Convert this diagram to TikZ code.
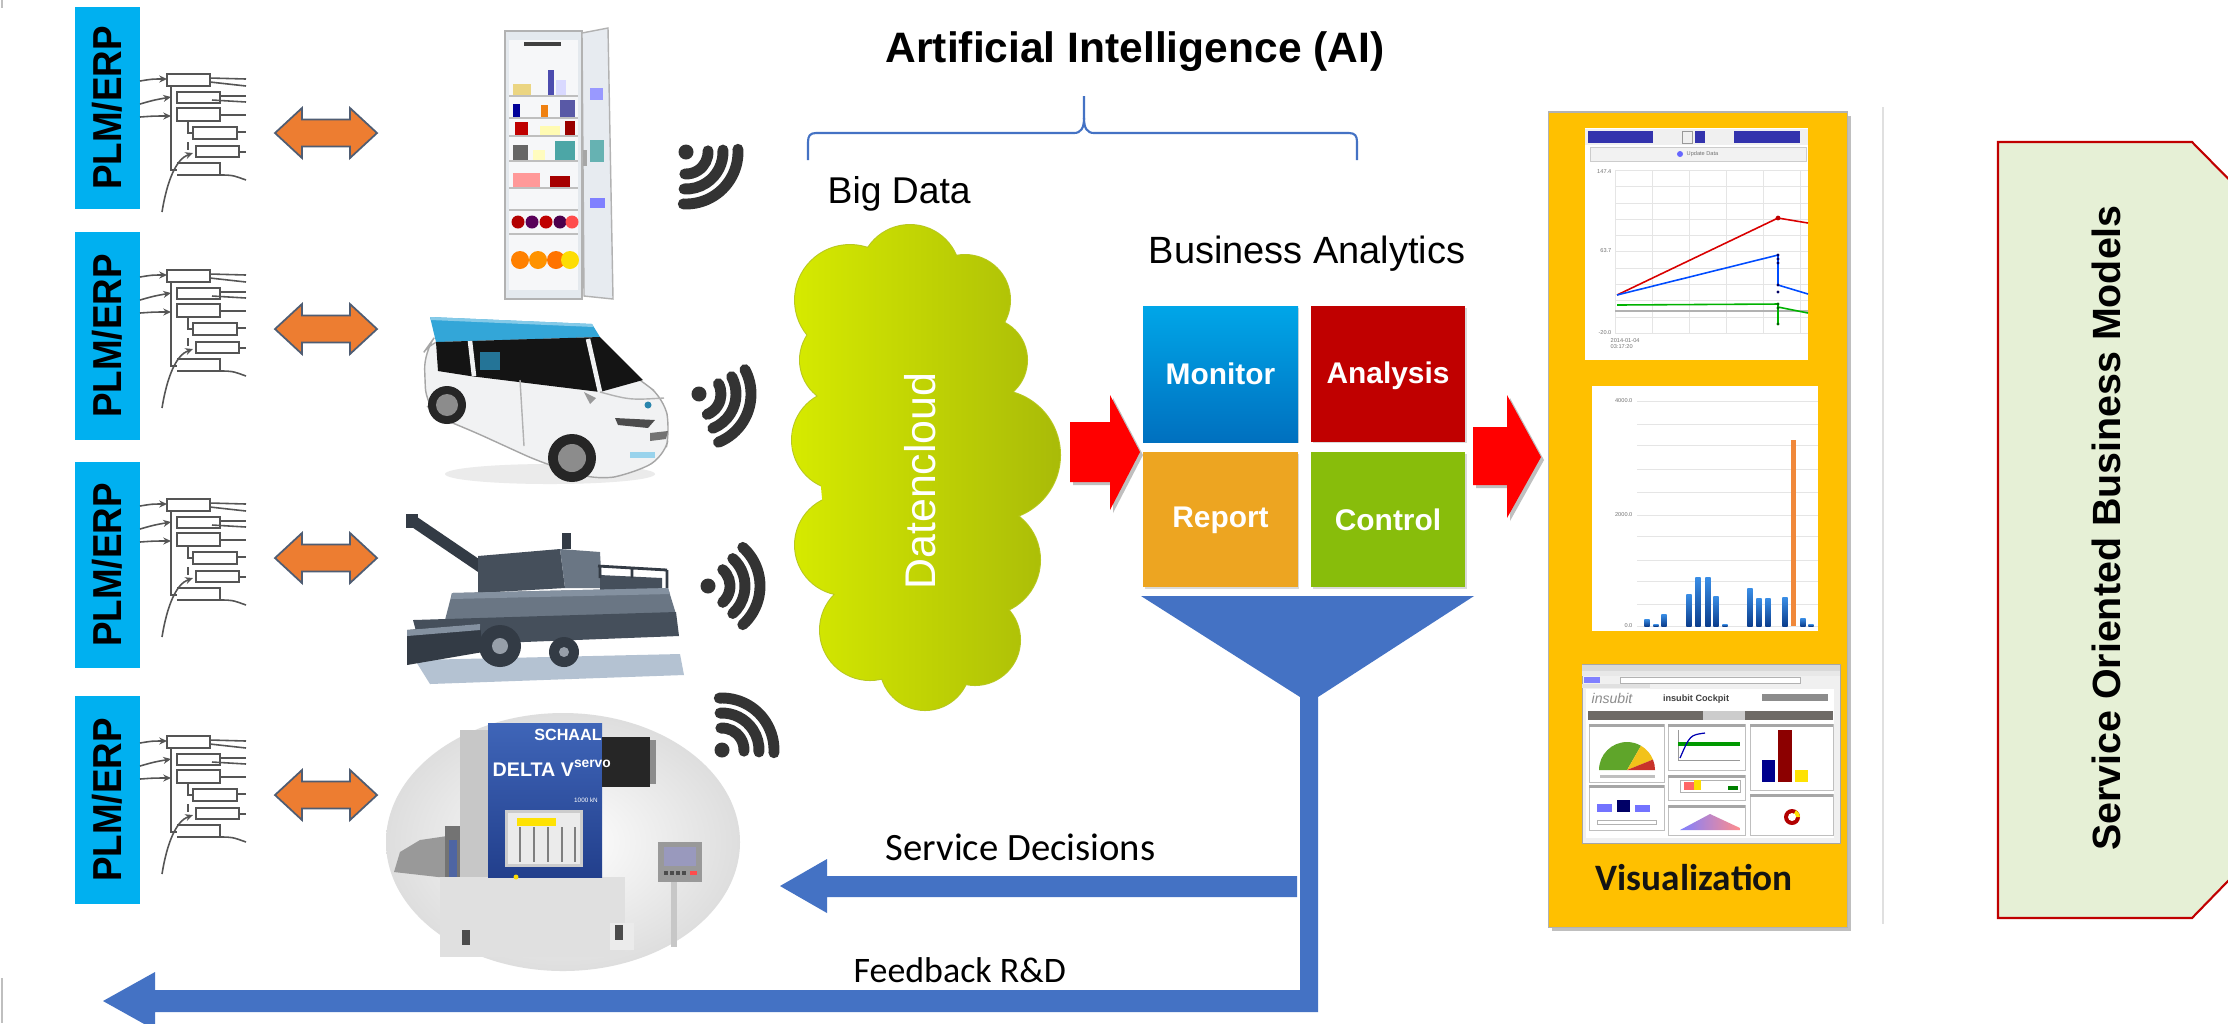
\documentclass[tikz,border=0pt]{standalone}
\usepackage{fontspec}
\usepackage{graphicx}
\setmainfont{Liberation Sans}
\newfontfamily\calfont{Carlito}
\usetikzlibrary{calc,arrows.meta}
\newcommand{\setfs}[1]{\fontsize{#1}{#1}\selectfont}

\definecolor{plmblue}{HTML}{00B0F0}
\definecolor{dblfill}{HTML}{ED7D31}
\definecolor{dblborder}{HTML}{4F5D73}
\definecolor{bomgray}{HTML}{555555}
\definecolor{flowblue}{HTML}{4472C4}
\definecolor{panelyellow}{HTML}{FFC000}
\definecolor{sobgreen}{HTML}{E6F0D6}
\definecolor{sobred}{HTML}{C00000}
\definecolor{monA}{HTML}{00A6E8}
\definecolor{monB}{HTML}{0070BF}
\definecolor{anared}{HTML}{C00000}
\definecolor{reporange}{HTML}{EDA521}
\definecolor{ctrlgreen}{HTML}{88BD0B}
\definecolor{cloudL}{HTML}{D6EA00}
\definecolor{cloudR}{HTML}{A9BB08}
\definecolor{cloudedge}{HTML}{B8C820}
\definecolor{wifigray}{HTML}{333333}
\definecolor{arrowred}{HTML}{FF0000}
\definecolor{fridgebody}{HTML}{E4E9EE}
\definecolor{fridgein}{HTML}{F6F7F9}
\definecolor{carroof}{HTML}{33A6D8}
\definecolor{carbody}{HTML}{F1F2F3}
\definecolor{harvA}{HTML}{454F5B}
\definecolor{harvB}{HTML}{6A7684}
\definecolor{harvC}{HTML}{333B45}
\definecolor{harvD}{HTML}{8491A0}
\definecolor{harvshadow}{HTML}{B4C2D2}
\definecolor{schaalA}{HTML}{3F65B8}
\definecolor{schaalB}{HTML}{223F8C}
\definecolor{navgray}{HTML}{6E6A66}
\definecolor{gaugegreen}{HTML}{5FA52A}
\definecolor{gaugeyellow}{HTML}{F2C21A}
\definecolor{gaugered}{HTML}{C8322A}
\definecolor{barA}{HTML}{3A8EE6}
\definecolor{barB}{HTML}{0B3D8C}
\definecolor{barorange}{HTML}{F0883A}

\tikzset{
  plmtext/.style={rotate=90, font=\setfs{11.5}\bfseries, text=black, inner sep=0pt},
  dblarrow/.style={fill=dblfill, draw=dblborder, line width=0.5pt},
  tile/.style={inner sep=0pt, font=\setfs{8.5}\bfseries, text=white},
  tinylabel/.style={inner sep=0pt, font=\setfs{1.6}, text=black!55},
  wifi/.pic={
    \fill[wifigray] (0,0) circle[radius=7.5];
    \foreach \r in {22,37,52}
      \draw[wifigray, line width=3.1pt, line cap=round]
        (-48:\r) arc[start angle=-48, end angle=48, radius=\r];
  },
  bom/.pic={
    \begin{scope}[draw=bomgray, line width=0.45pt]
      \draw (27,-59) rectangle (70,-47);
      \draw (37,-41) rectangle (80,-30);
      \draw (37,-25) rectangle (80,-12);
      \draw (53,-6) rectangle (97,6);
      \draw (56,13) rectangle (99,24);
      \draw (37,30) -- (80,30) -- (80,42) -- (37,42);
      \draw (31,-47) -- (31,37) -- (37,37);
      \draw (48,-11) -- (48,0) -- (53,0);
      \draw (48,9) -- (48,17);
      \draw[-{Stealth[length=2.2pt,width=2pt]}] (0,-52) .. controls (12,-54) .. (27,-54);
      \draw[-{Stealth[length=2.2pt,width=2pt]}] (0,-29) .. controls (14,-33) .. (31,-36);
      \draw[-{Stealth[length=2.2pt,width=2pt]}] (0,-16) .. controls (14,-17) .. (31,-17);
      \draw[-{Stealth[length=2.2pt,width=2pt]}] (22,79) .. controls (27,48) and (36,26) .. (53,20);
      \draw (70,-55) -- (106,-54);
      \draw (70,-51) -- (106,-47);
      \draw (80,-37) -- (106,-37);
      \draw (72,-33) -- (106,-31);
      \draw (80,-18) -- (106,-18);
      \draw (97,-1) -- (106,-1);
      \draw (99,19) -- (106,19);
      \draw (80,42) .. controls (92,42) .. (106,47);
    \end{scope}
  }
}

\begin{document}
\begin{tikzpicture}[x=0.01cm, y=-0.01cm]
\useasboundingbox (0,0) rectangle (2228,1023);
\fill[white] (0,0) rectangle (2228,1023);
\draw[black!25, line width=0.5pt] (2,0) -- (2,8) (2,978) -- (2,1023);

% ---------- PLM/ERP columns ----------
\foreach \i/\ya/\yb in {1/7/209, 2/232/440, 3/462/668, 4/696/904} {
  \fill[plmblue] (75,\ya) rectangle (140,\yb);
  \node[plmtext] (plm\i) at (107.5,{(\ya+\yb)/2}) {\scalebox{0.91}[1]{PLM/ERP}};
}

% product structure sketches and exchange arrows
\foreach \y in {133,329,558,795} {
  \pic at (140,\y) {bom};
  \fill[dblarrow] (275,\y) -- ++(27,-25) -- ++(0,11.5) -- ++(48,0) -- ++(0,-11.5)
     -- ++(27,25) -- ++(-27,25) -- ++(0,-11.5) -- ++(-48,0) -- ++(0,11.5) -- cycle;
}

% ---------- fridge ----------
\filldraw[fill=fridgebody, draw=black!30, line width=0.4pt] (505,31) rectangle (582,299);
\fill[fridgein] (509,40) rectangle (578,290);
\fill[black!75] (524,42) rectangle (561,46);
\foreach \sy in {96,118,136,161,188,210,234} \draw[black!25, line width=0.5pt] (509,\sy) -- (578,\sy);
\fill[yellow!45!brown!60] (513,84) rectangle (531,95);
\fill[blue!55!black!70] (548,70) rectangle (554,95);
\fill[white!85!blue] (556,80) rectangle (566,95);
\fill[blue!60!black] (513,104) rectangle (520,117);
\fill[orange!75!brown] (541,105) rectangle (548,117);
\fill[blue!30!gray] (560,100) rectangle (575,117);
\fill[red!75!black] (515,122) rectangle (528,135);
\fill[yellow!30!white] (540,126) rectangle (560,135);
\fill[red!60!black] (565,121) rectangle (575,135);
\fill[black!60] (513,145) rectangle (528,160);
\fill[yellow!25!white] (533,150) rectangle (545,160);
\fill[teal!70] (555,141) rectangle (575,160);
\fill[red!40!white] (513,173) rectangle (540,187);
\fill[red!65!black] (550,176) rectangle (570,187);
\foreach \fx/\fc in {518/red!70!black, 532/violet!70!black, 546/red!75!black, 560/violet!60!black, 572/red!70}
  \fill[\fc] (\fx,222) circle[radius=6.5];
\foreach \fx/\fc in {520/orange, 538/orange!85!yellow, 556/orange!90!red, 570/yellow!80!orange}
  \fill[\fc] (\fx,260) circle[radius=9];
\filldraw[fill=fridgebody!90!white, draw=black!30, line width=0.4pt] (582,33) -- (608,28) -- (613,299) -- (584,296) -- cycle;
\fill[blue!40] (590,88) rectangle (603,100);
\fill[teal!60] (590,140) rectangle (604,162);
\fill[blue!50] (590,198) rectangle (605,208);
\fill[black!35] (583,150) rectangle (587,166);

% ---------- car ----------
\fill[black!8] (550,474) ellipse[x radius=105, y radius=10];
\filldraw[fill=carbody, draw=black!35, line width=0.4pt, rounded corners=5]
  (424,352) -- (434,338) -- (585,340) -- (640,380) -- (664,398) -- (670,430) -- (664,458)
  -- (630,474) -- (598,480) -- (540,462) -- (470,430) -- (440,418) -- (426,405) -- cycle;
\fill[carroof] (430,317) -- (592,324) -- (600,337) -- (436,342) -- cycle;
\fill[carroof!60!white] (430,317) -- (592,324) -- (594,327) -- (431,320) -- cycle;
\fill[black!92] (436,342) -- (600,337) -- (643,380) -- (600,392) -- (470,376) -- (438,371) -- cycle;
\draw[carbody, line width=1.3pt] (470,341) -- (474,376) (588,339) -- (600,392);
\fill[carroof!70!black] (480,352) rectangle (500,370);
\draw[black!30, line width=0.4pt] (600,392) .. controls (630,400) .. (664,398);
\fill[black!70] (615,418) -- (655,420) -- (648,428) -- (618,425) -- cycle;
\fill[black!55] (650,433) -- (668,431) -- (666,439) -- (650,441) -- cycle;
\draw[black!30, line width=0.4pt] (520,380) -- (524,446);
\fill[black!40] (584,392) -- (596,398) -- (590,404) -- cycle;
\fill[carroof!80!black] (648,405) circle[radius=3.5];
\fill[carroof!50!white] (630,452) rectangle (655,458);
\fill[black!85] (447,405) circle[radius=19];
\fill[black!45] (447,405) circle[radius=11];
\fill[black!85] (572,458) circle[radius=24];
\fill[black!45] (572,458) circle[radius=14];

% ---------- combine harvester ----------
\fill[harvshadow] (415,660) -- (680,654) -- (684,675) -- (430,684) -- cycle;
\draw[harvC, line width=3.2pt, line cap=round] (413,521) -- (494,576);
\fill[harvC] (406,514) rectangle (418,528);
\fill[harvA] (478,556) -- (560,549) -- (565,588) -- (478,593) -- cycle;
\fill[harvB] (560,549) -- (600,552) -- (602,588) -- (565,588) -- cycle;
\fill[harvC] (562,533) rectangle (571,549);
\fill[harvA] (600,575) -- (662,578) -- (662,600) -- (600,600) -- cycle;
\draw[harvC, line width=0.8pt] (598,566) -- (667,570) (600,566) -- (600,578) (632,568) -- (632,578) (667,570) -- (667,588);
\fill[harvB] (452,593) -- (668,588) -- (676,614) -- (445,620) -- cycle;
\fill[harvD] (452,593) -- (668,588) -- (670,594) -- (451,599) -- cycle;
\fill[harvA] (413,620) -- (676,612) -- (679,636) -- (420,646) -- cycle;
\fill[harvC] (407,630) -- (480,624) -- (483,652) -- (407,665) -- cycle;
\fill[harvD] (407,630) -- (480,624) -- (480,630) -- (407,636) -- cycle;
\fill[harvC] (500,646) circle[radius=21];
\fill[harvB!70!white] (500,646) circle[radius=8];
\fill[harvC] (564,652) circle[radius=15];
\fill[harvB!70!white] (564,652) circle[radius=5];

% ---------- forming machine ----------
\shade[inner color=white, outer color=black!13] (563,842) ellipse[x radius=177, y radius=129];
\fill[black!40] (447,836) -- (420,840) -- (400,852) -- (394,872) -- (447,878) -- cycle;
\fill[black!55] (445,826) rectangle (460,905);
\fill[schaalB!80] (449,840) rectangle (457,880);
\fill[black!22] (460,730) rectangle (490,947);
\fill[black!12] (440,877) rectangle (625,957);
\fill[black!8] (610,923) rectangle (634,950);
\shade[top color=schaalA, bottom color=schaalB] (488,723) rectangle (602,877);
\fill[black!20] (505,810) rectangle (583,867);
\fill[black!8] (508,813) rectangle (580,864);
\fill[yellow!85!orange] (517,818) rectangle (556,826);
\foreach \wx in {520,534,548,562,575} \draw[black!50, line width=0.4pt] (\wx,827) -- (\wx,862);
\fill[black!85] (602,737) rectangle (650,787);
\fill[black!45] (650,740) rectangle (656,784);
\fill[yellow!80!orange] (516,877) circle[radius=2.5];
\node[inner sep=0pt, text=white, font=\setfs{4.6}\bfseries] (schaal) at (568,735) {SCHAAL};
\node[inner sep=0pt, text=white, font=\setfs{5.6}\bfseries, anchor=west] (delta) at (492,768) {DELTA V\textsuperscript{servo}};
\node[inner sep=0pt, text=white, font=\setfs{1.8}] (kn) at (586,800) {1000 kN};
\fill[black!22] (671,880) rectangle (677,947);
\fill[black!40] (658,842) rectangle (702,882);
\fill[black!65!blue!40] (664,847) rectangle (696,866);
\foreach \kx in {664,670,676,682} \fill[black!70] (\kx,871) rectangle (\kx+4,875);
\fill[red!70] (690,871) rectangle (697,875);
\fill[black!70] (462,930) rectangle (470,945);
\fill[black!70] (615,925) rectangle (623,940);

% ---------- radio signals ----------
\pic[rotate=-45] at (686,152) {wifi};
\pic[rotate=-20] at (699,394) {wifi};
\pic at (708,586) {wifi};
\pic[rotate=45] at (722,750) {wifi};

% ---------- AI title and brace ----------
\node[inner sep=0pt, anchor=base, font=\setfs{12.1}\bfseries] (ai) at (1135,62) {Artificial Intelligence (AI)};
\draw[flowblue, line width=0.6pt]
  (808,160) -- (808,142) .. controls (808,136) and (810,133) .. (816,133) -- (1074,133)
  .. controls (1081,133) and (1084,128) .. (1084,118) -- (1084,96);
\draw[flowblue, line width=0.6pt]
  (1084,118) .. controls (1084,128) and (1087,133) .. (1094,133) -- (1349,133)
  .. controls (1355,133) and (1357,136) .. (1357,142) -- (1357,160);

\node[inner sep=0pt, anchor=base west, font=\setfs{10.6}] (bigdata) at (827,203) {Big Data};
\node[inner sep=0pt, anchor=base west, font=\setfs{10.8}] (ba) at (1148,263) {Business Analytics};

% ---------- data cloud ----------
\fill[cloudedge]
  (850,300) circle[radius=56] (910,275) circle[radius=51] (965,300) circle[radius=46]
  (985,360) circle[radius=43] (995,455) circle[radius=66] (985,560) circle[radius=56]
  (975,640) circle[radius=46] (925,665) circle[radius=46] (870,630) circle[radius=51]
  (845,545) circle[radius=51] (842,440) circle[radius=51] (845,360) circle[radius=46];
\shade[left color=cloudL, right color=cloudR]
  (850,300) circle[radius=55] (910,275) circle[radius=50] (965,300) circle[radius=45]
  (985,360) circle[radius=42] (995,455) circle[radius=65] (985,560) circle[radius=55]
  (975,640) circle[radius=45] (925,665) circle[radius=45] (870,630) circle[radius=50]
  (845,545) circle[radius=50] (842,440) circle[radius=50] (845,360) circle[radius=45]
  (920,460) ellipse[x radius=100, y radius=190];
\node[rotate=90, inner sep=0pt, text=white, font=\setfs{12.2}] (cloud) at (920,481) {Datencloud};

% ---------- red flow arrows ----------
\fill[black!25] (1073,425) -- (1113,425) -- (1113,398) -- (1143,455) -- (1113,513) -- (1113,485) -- (1073,485) -- cycle;
\fill[arrowred] (1070,422) -- (1110,422) -- (1110,395) -- (1140,452) -- (1110,510) -- (1110,482) -- (1070,482) -- cycle;
\fill[black!25] (1476,430) -- (1510,430) -- (1510,398) -- (1544,460) -- (1510,521) -- (1510,488) -- (1476,488) -- cycle;
\fill[arrowred] (1473,427) -- (1507,427) -- (1507,395) -- (1541,457) -- (1507,518) -- (1507,485) -- (1473,485) -- cycle;

% ---------- analytics tiles ----------
\foreach \bx/\by in {1143/306, 1311/306, 1143/452, 1311/452}
  \fill[black!15] (\bx+2,\by+2) rectangle (\bx+156,\by+137);
\shade[top color=monA, bottom color=monB] (1143,306) rectangle (1298,442);
\fill[anared] (1311,306) rectangle (1465,442);
\fill[reporange] (1143,452) rectangle (1298,587);
\fill[ctrlgreen] (1311,452) rectangle (1465,587);
\node[tile] (mon) at (1220.5,374) {Monitor};
\node[tile] (ana) at (1388,376) {Analysis};
\node[tile] (rep) at (1220.5,520) {Report};
\node[tile] (ctl) at (1388,520) {Control};

% ---------- funnel, decisions and feedback ----------
\fill[flowblue] (1141,596) -- (1474,596) -- (1318,697) -- (1318,1012) -- (155,1012) -- (155,1030)
  -- (103,1001) -- (155,972) -- (155,990) -- (1300,990) -- (1300,697) -- cycle;
\fill[flowblue] (1297,876) -- (827,876) -- (827,859) -- (780,886) -- (827,913) -- (827,897) -- (1297,897) -- cycle;
\node[inner sep=0pt, anchor=base west, font=\calfont\setfs{11}] (sd) at (885,860) {Service Decisions};
\node[inner sep=0pt, anchor=base west, font=\calfont\setfs{10.2}] (fb) at (853,982) {Feedback R\&D};

% ---------- visualization panel ----------
\fill[black!25] (1552,116) rectangle (1851,931);
\filldraw[fill=panelyellow, draw=black!30, line width=0.3pt] (1548,112) rectangle (1847,927);

% line chart
\fill[white] (1585,128) rectangle (1808,360);
\fill[black!6] (1585,129) rectangle (1808,145);
\fill[blue!60!black!80] (1588,131) rectangle (1653,143);
\fill[blue!60!black!80] (1734,131) rectangle (1800,143);
\draw[black!40, line width=0.2pt] (1682,131) rectangle (1692,143);
\fill[blue!60!black!80] (1695,131) rectangle (1705,143);
\filldraw[fill=black!5, draw=black!20, line width=0.2pt] (1590,147) rectangle (1806,161);
\fill[blue!60] (1680,154) circle[radius=3];
\node[tinylabel, anchor=west] (upd) at (1686,154) {Update Data};
\foreach \gx in {1615,1652,1689,1726,1763,1800} \draw[black!10, line width=0.2pt] (\gx,170) -- (\gx,333);
\foreach \gy in {170,186,203,219,235,251,268,284,300,317,333} \draw[black!10, line width=0.2pt] (1615,\gy) -- (1808,\gy);
\node[tinylabel, anchor=east] (l1) at (1612,172) {147.4};
\node[tinylabel, anchor=east] (l2) at (1612,251) {63.7};
\node[tinylabel, anchor=east] (l3) at (1612,333) {-20.0};
\node[tinylabel, anchor=north west, align=left] (l4) at (1610,338) {2014-01-04\\03:17:20};
\draw[black!30, line width=0.3pt] (1615,311) -- (1808,311);
\draw[red!85!black, line width=0.45pt] (1617,295) -- (1778,218) -- (1808,223);
\draw[blue!70!cyan, line width=0.45pt] (1617,295) -- (1778,255) -- (1778,285) -- (1808,294);
\draw[green!70!black, line width=0.45pt] (1617,305) -- (1778,304) -- (1778,324);
\draw[green!70!black, line width=0.45pt] (1778,307) -- (1808,313);
\fill[red!75!black] (1778,218) circle[radius=2.4];
\foreach \dy in {255,259,263,285,292} \fill[blue!40!black] (1778,\dy) circle[radius=1.6];
\foreach \dy in {304,308,324} \fill[green!40!black] (1778,\dy) circle[radius=1.6];

% bar chart
\fill[white] (1592,386) rectangle (1818,631);
\foreach \gy in {401,424,445,469,492,515,536,560,581,604,626} \draw[black!10, line width=0.2pt] (1637,\gy) -- (1818,\gy);
\node[tinylabel, anchor=east] (b1) at (1633,401) {4000.0};
\node[tinylabel, anchor=east] (b2) at (1633,515) {2000.0};
\node[tinylabel, anchor=east] (b3) at (1633,626) {0.0};
\foreach \bx/\by in {1647/619, 1656/624, 1664/614, 1689/594, 1698/577, 1708/577, 1716/596, 1725/624,
                     1750/588, 1759/598, 1768/598, 1785/597, 1803/618, 1811/624}
  \shade[top color=barA, bottom color=barB] (\bx-2.6,\by) rectangle (\bx+2.6,626);
\fill[barorange] (1790.5,440) rectangle (1796,626);

% dashboard screenshot
\filldraw[fill=black!6, draw=black!35, line width=0.3pt] (1582,665) rectangle (1840,843);
\fill[black!15] (1582,665) rectangle (1840,671);
\fill[black!9] (1582,671) rectangle (1840,676);
\filldraw[fill=white, draw=black!30, line width=0.2pt] (1620,677) rectangle (1800,683);
\fill[blue!50] (1584,677) rectangle (1600,683);
\fill[black!12] (1582,684) rectangle (1650,688);
\fill[white] (1586,689) rectangle (1834,838);
\node[inner sep=0pt, text=black!45, font=\setfs{4}\itshape] (logo) at (1612,698) {insubit};
\node[inner sep=0pt, text=black!75, font=\setfs{2.6}\bfseries] (ckp) at (1696,699) {insubit Cockpit};
\fill[black!45] (1762,694) rectangle (1828,701);
\fill[navgray] (1588,711) rectangle (1833,720);
\fill[black!20] (1703,711) rectangle (1745,720);
\foreach \px/\py/\qx/\qy in {1589/724/1664/782, 1589/785/1664/830, 1668/724/1745/770,
                             1668/775/1745/800, 1668/805/1745/835, 1750/724/1833/790, 1750/794/1833/835} {
  \draw[black!25, line width=0.25pt] (\px,\py) rectangle (\qx,\qy);
  \fill[black!35] (\px,\py) rectangle (\qx,\py+3);
}
\fill[gaugegreen] (1627,770) -- +(180:28) arc[start angle=180, end angle=300, radius=28] -- cycle;
\fill[gaugeyellow] (1627,770) -- +(300:28) arc[start angle=300, end angle=338, radius=28] -- cycle;
\fill[gaugered] (1627,770) -- +(338:28) arc[start angle=338, end angle=360, radius=28] -- cycle;
\fill[black!25] (1600,775) rectangle (1655,778);
\fill[blue!55] (1597,804) rectangle (1612,812);
\fill[blue!40!black] (1617,800) rectangle (1630,812);
\fill[blue!55] (1635,805) rectangle (1650,812);
\draw[black!30, line width=0.2pt] (1597,820) rectangle (1656,824);
\draw[black!40, line width=0.25pt] (1678,730) -- (1678,760) -- (1740,760);
\fill[green!60!black] (1678,742) rectangle (1740,746);
\draw[blue!70!black, line width=0.35pt] (1680,758) .. controls (1690,735) .. (1705,733);
\draw[black!30, line width=0.2pt] (1680,780) rectangle (1740,792);
\fill[red!60] (1684,782) rectangle (1694,790);
\fill[yellow!80!orange] (1694,780) rectangle (1701,790);
\fill[green!50!black] (1728,786) rectangle (1738,790);
\shade[left color=blue!50, right color=red!45] (1680,830) -- (1710,814) -- (1740,828) -- (1740,830) -- cycle;
\fill[blue!55!black] (1762,760) rectangle (1775,782);
\fill[red!55!black] (1778,730) rectangle (1792,782);
\fill[yellow!85!orange] (1795,770) rectangle (1808,782);
\fill[red!70!black] (1792,817) circle[radius=8];
\fill[yellow!85!orange] (1792,817) -- +(300:8) arc[start angle=300, end angle=360, radius=8] -- cycle;
\fill[white] (1792,817) circle[radius=4];

\node[inner sep=0pt, anchor=base west, text=black!92, font=\calfont\setfs{10.6}\bfseries] (viz) at (1595,890) {Visualization};

% separator
\draw[black!12, line width=0.6pt] (1883,107) -- (1883,924);

% ---------- service oriented business models ----------
\begin{scope}
  \clip (0,0) rectangle (2228,1023);
  \filldraw[fill=sobgreen, draw=sobred, line width=0.6pt]
    (1998,142) -- (2192,142) -- (2262,213) -- (2262,846) -- (2192,918) -- (1998,918) -- cycle;
\end{scope}
\node[rotate=90, inner sep=0pt, font=\setfs{11.2}\bfseries] (sob) at (2106,528) {Service Oriented Business Models};

\end{tikzpicture}
\end{document}
